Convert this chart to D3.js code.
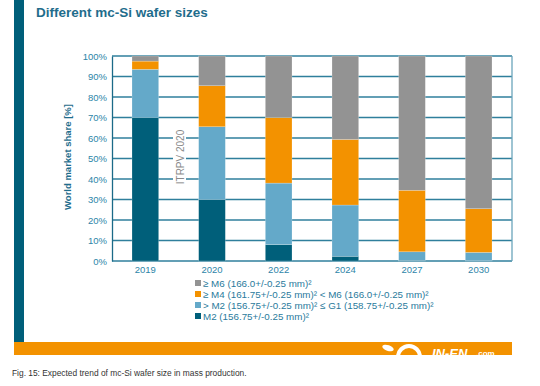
<!doctype html>
<html>
  <head>
    <script src="https://cdnjs.cloudflare.com/ajax/libs/d3/7.8.5/d3.min.js"></script>
    <style>
      body { margin: 0; background: #fff; }
      text { font-family: "Liberation Sans", Arial, sans-serif; }
    </style>
  </head>
  <body>
    <svg width="540" height="386"></svg>

    <script>
        // data (percent)
        var years = ["2019", "2020", "2022", "2024", "2027", "2030"];
        var m2     = [70, 30, 8, 2.3, 0.3, 0.2];
        var g1     = [23.5, 35.5, 30, 25, 4.2, 4];
        var m4     = [4, 20, 32, 32, 30, 21.3];
        var m6     = [2.5, 14.5, 30, 40.7, 65.5, 74.5];
        var yTicks = [0, 10, 20, 30, 40, 50, 60, 70, 80, 90, 100];
        var seriesNames = ["M2", "G1", "M4", "M6"];
        var legendLabels = [
            "\u2265 M6 (166.0+/-0.25 mm)\u00b2",
            "\u2265 M4 (161.75+/-0.25 mm)\u00b2 < M6 (166.0+/-0.25 mm)\u00b2",
            "> M2 (156.75+/-0.25 mm)\u00b2 \u2264 G1 (158.75+/-0.25 mm)\u00b2",
            "M2 (156.75+/-0.25 mm)\u00b2"
        ];
        var colors = {M2: "#005f7a", G1: "#64a9c9", M4: "#f39200", M6: "#939393"};

        var rows = years.map((y, i) => ({year: y, M2: m2[i], G1: g1[i], M4: m4[i], M6: m6[i]}));

        var svg = d3.select("svg");
        var teal = "#1b6a88";

        // page decoration
        svg.append("rect").attr("x", 14).attr("y", 0).attr("width", 10).attr("height", 343).attr("fill", "#005f7a");
        svg.append("rect").attr("x", 14).attr("y", 342).attr("width", 498).attr("height", 13).attr("fill", "#f39200");
        svg.append("text").attr("x", 36).attr("y", 17)
            .attr("font-size", 13.5).attr("font-weight", "bold").attr("fill", "#1f6d8c")
            .text("Different mc-Si wafer sizes");

        var x = d3.scaleBand().domain(years).range([112, 512]).paddingInner(0.6).paddingOuter(0.3);
        var y = d3.scaleLinear().domain([0, 100]).range([261, 56]);

        // grid
        svg.append("g").selectAll("line").data(yTicks).enter().append("line")
            .attr("x1", 112).attr("x2", 512)
            .attr("y1", d => y(d)).attr("y2", d => y(d))
            .attr("stroke", "#2f7f9c").attr("stroke-width", 1.3);
        svg.append("line").attr("x1", 512).attr("x2", 512).attr("y1", y(100)).attr("y2", y(0))
            .attr("stroke", "#6aa5bb").attr("stroke-width", 1.3);

        // ITRPV note with white background
        svg.append("rect").attr("x", 173).attr("y", 128).attr("width", 13).attr("height", 58).attr("fill", "#fff");
        svg.append("text").attr("transform", "translate(183.5,157) rotate(-90)")
            .attr("text-anchor", "middle").attr("font-size", 10).attr("fill", "#8a8a8a")
            .text("ITRPV 2020");

        // stacked bars
        var stack = d3.stack().keys(seriesNames)(rows);
        svg.append("g").selectAll("g").data(stack).enter().append("g")
            .attr("fill", d => colors[d.key])
            .selectAll("rect").data(d => d).enter().append("rect")
            .attr("x", d => x(d.data.year))
            .attr("width", x.bandwidth())
            .attr("y", d => y(d[1]))
            .attr("height", d => y(d[0]) - y(d[1]))
            .attr("stroke", "#fff").attr("stroke-opacity", 0.35).attr("stroke-width", 0.6);

        // axes
        var yAxis = svg.append("g").attr("transform", "translate(112,0)")
            .call(d3.axisLeft(y).tickValues(yTicks).tickSize(0).tickPadding(5).tickFormat(d => d + "%"));
        yAxis.select(".domain").attr("stroke", teal).attr("stroke-width", 1.3);
        yAxis.selectAll("text").attr("font-size", 9.5).attr("fill", "#2d85a8")
            .attr("font-family", "Liberation Sans, Arial, sans-serif");

        var xAxis = svg.append("g").attr("transform", "translate(0,261)")
            .call(d3.axisBottom(x).tickSize(0).tickPadding(5));
        xAxis.select(".domain").remove();
        xAxis.selectAll("text").attr("font-size", 9.5).attr("fill", "#2d85a8")
            .attr("font-family", "Liberation Sans, Arial, sans-serif");

        svg.append("text").attr("transform", "translate(71,157) rotate(-90)")
            .attr("text-anchor", "middle").attr("font-size", 9.5).attr("font-weight", "bold")
            .attr("fill", "#1f6d8c").text("World market share [%]");

        // legend
        var legendColors = [colors.M6, colors.M4, colors.G1, colors.M2];
        var lg = svg.append("g").selectAll("g").data(legendLabels).enter().append("g")
            .attr("transform", (d, i) => "translate(195," + (283 + i * 11) + ")");
        lg.append("rect").attr("x", 0).attr("y", -3).attr("width", 6).attr("height", 6)
            .attr("fill", (d, i) => legendColors[i]);
        lg.append("text").attr("x", 8).attr("y", 3.5).attr("font-size", 9.8).attr("fill", "#2a7a9c")
            .text(d => d);

        // logo on the orange band, clipped at the band's bottom
        svg.append("clipPath").attr("id", "band").append("rect")
            .attr("x", 14).attr("y", 342).attr("width", 498).attr("height", 13);
        var logo = svg.append("g").attr("clip-path", "url(#band)");
        logo.append("path").attr("d", "M398,357 A11,11 0 0 1 420,357")
            .attr("fill", "none").attr("stroke", "#fff").attr("stroke-width", 4);
        logo.append("ellipse").attr("cx", 388).attr("cy", 348).attr("rx", 6).attr("ry", 2.8)
            .attr("fill", "#fff").attr("transform", "rotate(20,388,348)");
        logo.append("text").attr("x", 432).attr("y", 357.5).attr("font-size", 13).attr("font-weight", "bold")
            .attr("font-style", "italic").attr("fill", "#fff").text("IN-EN");
        logo.append("text").attr("x", 476).attr("y", 355.5).attr("font-size", 8).attr("font-weight", "bold")
            .attr("fill", "#fff").text(".com");

        // caption
        svg.append("text").attr("x", 12).attr("y", 376).attr("font-size", 8.4)
            .attr("font-family", "Open Sans, sans-serif").attr("fill", "#333")
            .text("Fig. 15: Expected trend of mc-Si wafer size in mass production.");
    </script>
  </body>
</html>
